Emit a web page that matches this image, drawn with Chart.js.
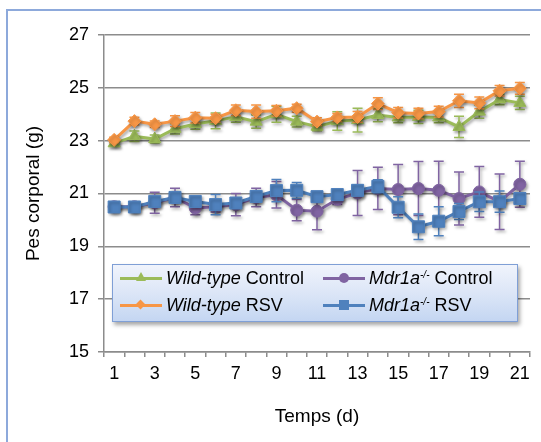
<!DOCTYPE html>
<html>
<head>
<meta charset="utf-8">
<script src="https://cdn.jsdelivr.net/npm/chart.js@4/dist/chart.umd.min.js"></script>
<style>
  html, body { margin: 0; padding: 0; background: #fff; }
  #wrap { position: relative; width: 541px; height: 442px; overflow: hidden; font-family: "Liberation Sans", Arial, sans-serif; }
  #frame { position: absolute; left: 6px; top: 9px; width: 700px; height: 600px;
           border-left: 2px solid #8DA9DB; border-top: 2px solid #8DA9DB; }
  canvas { position: absolute; left: 0; top: 0; }
  #legend { position: absolute; left: 112px; top: 264px; width: 404px; height: 56px;
            border: 1px solid #7F9FD6;
            background: linear-gradient(to bottom, #F0F4FC 0%, #DCE6F7 50%, #C4D6F2 100%);
            box-shadow: 2px 3px 4px rgba(0,0,0,0.35); }
  .item { position: absolute; height: 20px; font-size: 18px; color: #000; white-space: nowrap; line-height: 20px; }
  .item .ln { position: absolute; left: 0; top: 9px; width: 42px; height: 3px; }
  .item .mk { position: absolute; }
  .item .tx { position: absolute; left: 46px; top: 0; }
  .item i { font-style: italic; }
  .item sup { font-size: 10px; font-style: italic; vertical-align: 0; position: relative; top: -6px; }
</style>
</head>
<body>
<div id="wrap">
  <div id="frame"></div>
  <canvas id="c" width="541" height="442"></canvas>
  <div id="legend">
    <div class="item" style="left:7px; top:3px;">
      <div class="ln" style="background:#9BBB59"></div>
      <div class="mk" style="left:16px; top:4px; width:0; height:0; border-left:5px solid transparent; border-right:5px solid transparent; border-bottom:9px solid #9BBB59;"></div>
      <div class="tx"><i>Wild-type</i> Control</div>
    </div>
    <div class="item" style="left:7px; top:30px;">
      <div class="ln" style="background:#F79646"></div>
      <div class="mk" style="left:17px; top:6px; width:7px; height:7px; background:#F79646; transform:rotate(45deg);"></div>
      <div class="tx"><i>Wild-type</i> RSV</div>
    </div>
    <div class="item" style="left:210px; top:3px;">
      <div class="ln" style="background:#8064A2"></div>
      <div class="mk" style="left:16px; top:5px; width:10px; height:10px; border-radius:50%; background:#8064A2;"></div>
      <div class="tx"><i>Mdr1a</i><sup>-/-</sup> Control</div>
    </div>
    <div class="item" style="left:210px; top:30px;">
      <div class="ln" style="background:#4F81BD"></div>
      <div class="mk" style="left:16px; top:5px; width:10px; height:10px; background:#4F81BD;"></div>
      <div class="tx"><i>Mdr1a</i><sup>-/-</sup> RSV</div>
    </div>
  </div>
</div>
<script>
// Days of follow-up
const days = ['1','2','3','4','5','6','7','8','9','10','11','12','13','14','15','16','17','18','19','20','21'];

// Mean body weight (g) per group
const wtControl  = [22.90, 23.17, 23.06, 23.45, 23.63, 23.75, 23.90, 23.72, 24.00, 23.72, 23.53, 23.74, 23.78, 23.97, 23.88, 23.90, 23.88, 23.52, 24.10, 24.56, 24.43];
const wtRSV      = [23.03, 23.74, 23.62, 23.74, 23.87, 23.85, 24.15, 24.10, 24.13, 24.23, 23.72, 23.88, 23.90, 24.40, 24.06, 24.03, 24.10, 24.51, 24.43, 24.89, 24.98];
const mdrControl = [20.50, 20.50, 20.65, 20.85, 20.45, 20.50, 20.58, 20.85, 20.95, 20.37, 20.33, 20.78, 21.02, 21.19, 21.15, 21.19, 21.12, 20.81, 21.06, 20.69, 21.35];
const mdrRSV     = [20.49, 20.49, 20.70, 20.85, 20.70, 20.58, 20.64, 20.89, 21.11, 21.12, 20.88, 20.96, 21.12, 21.27, 20.48, 19.74, 19.95, 20.32, 20.69, 20.69, 20.81];

// Standard error of each mean
const wtControlErr  = [0.10, 0.20, 0.15, 0.20, 0.20, 0.30, 0.20, 0.25, 0.30, 0.20, 0.15, 0.35, 0.45, 0.25, 0.20, 0.25, 0.20, 0.40, 0.25, 0.20, 0.25];
const wtRSVErr      = [0.10, 0.15, 0.12, 0.20, 0.20, 0.15, 0.20, 0.25, 0.20, 0.15, 0.15, 0.15, 0.20, 0.22, 0.20, 0.20, 0.20, 0.25, 0.22, 0.20, 0.22];
const mdrControlErr = [0.10, 0.15, 0.40, 0.35, 0.25, 0.20, 0.42, 0.35, 0.50, 0.40, 0.70, 0.20, 0.85, 0.80, 0.95, 1.02, 1.10, 1.00, 0.96, 1.05, 0.87];
const mdrRSVErr     = [0.10, 0.15, 0.15, 0.15, 0.20, 0.38, 0.20, 0.20, 0.42, 0.30, 0.20, 0.15, 0.20, 0.25, 0.40, 0.48, 0.55, 0.30, 0.37, 0.40, 0.20];

// Y axis range
const yMin = 15, yMax = 27, yStep = 2;

const FONT = '"Liberation Sans", Arial, sans-serif';

// Error bars drawn just beneath each series' line and markers
const errorBars = {
  id: 'errorBars',
  beforeDatasetDraw(chart, args) {
    const ds = chart.data.datasets[args.index];
    if (!ds.errors) return;
    const ctx = chart.ctx;
    const y = chart.scales.y;
    ctx.save();
    ctx.strokeStyle = ds.borderColor;
    ctx.lineWidth = 1.5;
    args.meta.data.forEach((pt, i) => {
      const v = ds.data[i], e = ds.errors[i];
      const top = y.getPixelForValue(v + e), bot = y.getPixelForValue(v - e);
      const x = pt.x;
      ctx.beginPath();
      ctx.moveTo(x, top); ctx.lineTo(x, bot);
      ctx.moveTo(x - 5, top); ctx.lineTo(x + 5, top);
      ctx.moveTo(x - 5, bot); ctx.lineTo(x + 5, bot);
      ctx.stroke();
    });
    ctx.restore();
  }
};

// Soft drop shadow under the plotted series
const seriesShadow = {
  id: 'seriesShadow',
  beforeDatasetsDraw(chart) {
    const ctx = chart.ctx;
    ctx.save();
    ctx.shadowColor = 'rgba(0,0,0,0.35)';
    ctx.shadowBlur = 3;
    ctx.shadowOffsetX = 1.5;
    ctx.shadowOffsetY = 2;
  },
  afterDatasetsDraw(chart) { chart.ctx.restore(); }
};

function series(label, data, errors, color, style, radius, order) {
  return {
    label, data, errors, order,
    borderColor: color, backgroundColor: color,
    pointBackgroundColor: color, pointBorderColor: color,
    borderWidth: 3, pointStyle: style, pointRadius: radius, pointBorderWidth: 1,
    tension: 0, fill: false
  };
}

new Chart(document.getElementById('c'), {
  type: 'line',
  data: {
    labels: days,
    datasets: [
      series('Wild-type Control', wtControl, wtControlErr, '#9BBB59', 'triangle', 7, 4),
      series('Wild-type RSV', wtRSV, wtRSVErr, '#F79646', 'rectRot', 6.5, 3),
      series('Mdr1a-/- Control', mdrControl, mdrControlErr, '#8064A2', 'circle', 6, 2),
      series('Mdr1a-/- RSV', mdrRSV, mdrRSVErr, '#4F81BD', 'rect', 8.5, 1)
    ]
  },
  options: {
    responsive: false,
    animation: false,
    devicePixelRatio: 1,
    layout: { padding: { left: 9, right: 11, top: 35, bottom: 0 } },
    plugins: { legend: { display: false }, tooltip: { enabled: false } },
    scales: {
      x: {
        type: 'category',
        offset: true,
        afterFit(s) { s.height = 90; },
        grid: { display: true, offset: true, drawOnChartArea: false, drawTicks: true,
                tickLength: 5, tickColor: '#8C8C8C', lineWidth: 1.5 },
        border: { display: true, color: '#8C8C8C', width: 1.5 },
        ticks: {
          autoSkip: false, maxRotation: 0, padding: 6, color: '#000',
          font: { family: FONT, size: 18 },
          callback(val, idx) { return idx % 2 === 0 ? this.getLabelForValue(val) : ''; }
        },
        title: { display: true, text: 'Temps (d)', color: '#000',
                 font: { family: FONT, size: 19 }, padding: { top: 4, bottom: 14 } }
      },
      y: {
        min: yMin, max: yMax,
        afterFit(s) { s.width = 95; },
        grid: { color: '#8C8C8C', lineWidth: 1.5, tickLength: 6, tickColor: '#8C8C8C' },
        border: { display: true, color: '#8C8C8C', width: 1.5 },
        ticks: { stepSize: yStep, padding: 9, color: '#000', font: { family: FONT, size: 18 } },
        title: { display: true, text: 'Pes corporal (g)', color: '#000',
                 font: { family: FONT, size: 19 }, padding: { top: 13, bottom: 0 } }
      }
    }
  },
  plugins: [seriesShadow, errorBars]
});
</script>
</body>
</html>
